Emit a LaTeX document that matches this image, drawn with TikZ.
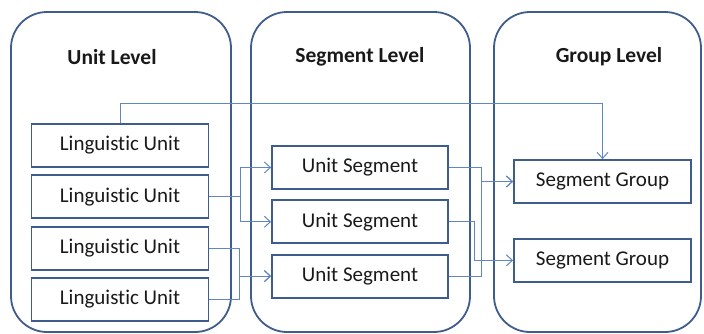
\documentclass[tikz,border=0pt]{standalone}
\usepackage{fontspec}
\setmainfont{Carlito}[Ligatures=NoCommon]
\usetikzlibrary{arrows.meta, positioning}
\definecolor{frameblue}{RGB}{62,92,140}
\definecolor{lineblue}{RGB}{96,136,192}
\tikzstyle{levelBox} = [draw=frameblue, line width=1.8pt, rounded corners=36pt]
\tikzstyle{levelTitle} = [font=\fontsize{21.5}{24}\selectfont\bfseries, text=black!90]
\tikzstyle{recNode} = [rectangle, minimum width=177pt, minimum height=43pt, text centered, draw=frameblue, line width=1.8pt, font=\fontsize{21}{24}\selectfont, text=black!90, inner sep=0pt]
\tikzstyle{arrowB} = [line width=1pt, draw=lineblue, -{Straight Barb[length=6pt,width=11pt]}]

\begin{document}
\begin{tikzpicture}[x=1pt, y=-1pt]
        \useasboundingbox (0,0) rectangle (704,333);
        % level frames
        \draw [levelBox] (11,12) rectangle (231,332);
        \draw [levelBox] (251,12) rectangle (470,332);
        \draw [levelBox] (494,12) rectangle (701,332);
        \node (unitTitle) [levelTitle] at (112,57) {Unit Level};
        \node (segTitle) [levelTitle] at (360,57) {Segment Level};
        \node (groupTitle) [levelTitle] at (609,57) {Group Level};

        % unit level
        \node (lu1) [recNode] at (120,145.5) {Linguistic Unit};
        \node (lu2) [recNode, below=6.5pt of lu1] {Linguistic Unit};
        \node (lu3) [recNode, below=6.5pt of lu2] {Linguistic Unit};
        \node (lu4) [recNode, below=6.5pt of lu3] {Linguistic Unit};

        % segment level
        \node (us1) [recNode, minimum width=176pt] at (360,167.5) {Unit Segment};
        \node (us2) [recNode, minimum width=176pt, below=9.5pt of us1] {Unit Segment};
        \node (us3) [recNode, minimum width=176pt, below=9.5pt of us2] {Unit Segment};

        % group level
        \node (sg1) [recNode] at (602.5,181.5) {Segment Group};
        \node (sg2) [recNode, below=34pt of sg1] {Segment Group};

        \coordinate (over) at (0,103);
        \draw [arrowB] (lu1.north) -- (lu1.north |- over) -| (sg1.north);
        \draw [arrowB] (lu2.east) -- ++(31,0) |- (us1.west);
        \draw [arrowB] (lu2.east) -- ++(31,0) |- (us2.west);
        \draw [arrowB] (lu3.east) -- ++(30,0) |- (us3.west);
        \draw [arrowB] (lu4.east) -- ++(30,0) |- (us3.west);
        \draw [arrowB] (us1.east) -- ++(33,0) |- (sg1.west);
        \draw [arrowB] (us3.east) -- ++(33,0) |- (sg1.west);
        \draw [arrowB] (us2.east) -- ++(26,0) |- (sg2.west);
    \end{tikzpicture}
\end{document}
